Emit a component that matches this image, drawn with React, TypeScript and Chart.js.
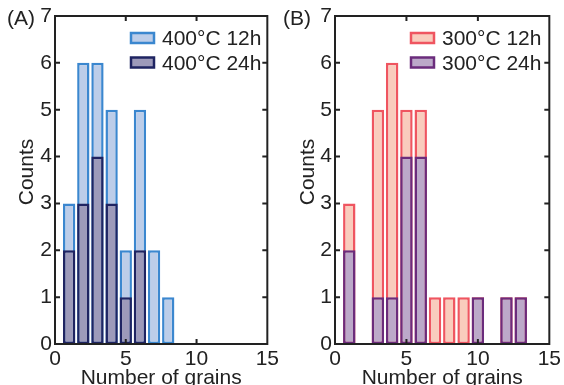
import React, { useEffect, useRef } from "react";
import { Chart, registerables } from "chart.js";

Chart.register(...registerables);

// Bin centres (number of grains)
const bins = [1, 2, 3, 4, 5, 6, 7, 8, 9, 10, 11, 12, 13, 14];

// Panel (A)
const a12h = [3, 6, 6, 5, 2, 5, 2, 1, 0, 0, 0, 0, 0, 0];
const a24h = [2, 3, 4, 3, 1, 2, 0, 0, 0, 0, 0, 0, 0, 0];
// Panel (B)
const b12h = [3, 0, 5, 6, 5, 5, 1, 1, 1, 1, 0, 1, 1, 0];
const b24h = [2, 0, 1, 1, 4, 4, 0, 0, 0, 1, 0, 1, 1, 0];

const xTicks = [0, 5, 10, 15];
const yTicks = [0, 1, 2, 3, 4, 5, 6, 7];

const FONT = "'Liberation Sans', Arial, Helvetica, sans-serif";
const TEXT = "#222222";
const FS = 21;

type Series = { label: string; values: number[]; fill: string; stroke: string };

type PanelProps = {
  panel: string;
  series: Series[];
  left: number;
  yAxisWidth: number;
  padRight: number;
  panelLabelX: number;
  yTitleX: number;
};

const boxPlugin = {
  id: "matlabBox",
  afterDatasetsDraw(chart: any) {
    const { ctx, chartArea } = chart;
    const { left, right, top, bottom } = chartArea;
    const xs = chart.scales.x;
    const ys = chart.scales.y;
    ctx.save();
    ctx.strokeStyle = "#222";
    ctx.lineWidth = 2;
    const tl = 5;
    ctx.beginPath();
    for (const v of xTicks.slice(1, -1)) {
      const px = xs.getPixelForValue(v);
      ctx.moveTo(px, bottom);
      ctx.lineTo(px, bottom - tl);
      ctx.moveTo(px, top);
      ctx.lineTo(px, top + tl);
    }
    for (const v of yTicks.slice(1, -1)) {
      const py = ys.getPixelForValue(v);
      ctx.moveTo(left, py);
      ctx.lineTo(left + tl, py);
      ctx.moveTo(right, py);
      ctx.lineTo(right - tl, py);
    }
    ctx.stroke();
    ctx.strokeRect(left, top, right - left, bottom - top);
    ctx.restore();
  },
  afterDraw(chart: any, _args: any, opts: any) {
    const { ctx, chartArea } = chart;
    ctx.save();
    ctx.font = `${FS}px ${FONT}`;
    ctx.fillStyle = TEXT;
    ctx.textBaseline = "alphabetic";
    ctx.textAlign = "left";
    ctx.fillText(opts.panel, opts.panelLabelX, 25);
    // y-axis title
    ctx.save();
    ctx.translate(opts.yTitleX, 172);
    ctx.rotate(-Math.PI / 2);
    ctx.textAlign = "center";
    ctx.textBaseline = "middle";
    ctx.fillText("Counts", 0, 0);
    ctx.restore();
    // legend
    const ds = chart.data.datasets;
    ds.forEach((d: any, i: number) => {
      const bx = chartArea.left + 76;
      const by = 33 + i * 24.5;
      ctx.fillStyle = d.backgroundColor;
      ctx.fillRect(bx, by, 23, 10);
      ctx.strokeStyle = d.borderColor;
      ctx.lineWidth = 2.5;
      ctx.strokeRect(bx, by, 23, 10);
      ctx.fillStyle = TEXT;
      ctx.textAlign = "left";
      ctx.textBaseline = "alphabetic";
      ctx.fillText(d.label, chartArea.left + 107, by + 12);
    });
    ctx.restore();
  },
};

function Panel(props: PanelProps) {
  const ref = useRef<HTMLCanvasElement | null>(null);
  useEffect(() => {
    if (!ref.current) return;
    const datasets = props.series.map((s, i) => ({
      label: s.label,
      data: bins.map((b, k) => ({ x: b, y: s.values[k] })),
      backgroundColor: s.fill,
      borderColor: s.stroke,
      borderWidth: 2.5,
      borderSkipped: false,
      grouped: false,
      order: props.series.length - i,
      categoryPercentage: 1,
      barPercentage: 0.87,
    }));
    const chart = new Chart(ref.current, {
      type: "bar",
      data: { datasets },
      plugins: [boxPlugin],
      options: {
        animation: false,
        responsive: false,
        layout: { padding: { left: 0, right: props.padRight, top: 16, bottom: 0 } },
        plugins: {
          legend: { display: false },
          tooltip: { enabled: false },
          matlabBox: { panel: props.panel, panelLabelX: props.panelLabelX, yTitleX: props.yTitleX },
        } as any,
        scales: {
          x: {
            type: "linear",
            min: 0,
            max: 15,
            offset: false,
            grid: { display: false, drawTicks: false },
            border: { display: false },
            afterBuildTicks: (s: any) => {
              s.ticks = xTicks.map((v) => ({ value: v }));
            },
            afterFit: (s: any) => {
              s.height = 56;
            },
            ticks: {
              font: { size: FS, family: FONT },
              color: TEXT,
              padding: 3,
              maxRotation: 0,
            },
            title: {
              display: true,
              text: "Number of grains",
              font: { size: FS, family: FONT },
              color: TEXT,
              padding: { top: 0, bottom: 9 },
            },
          },
          y: {
            type: "linear",
            min: 0,
            max: 7,
            grid: { display: false, drawTicks: false },
            border: { display: false },
            afterBuildTicks: (s: any) => {
              s.ticks = yTicks.map((v) => ({ value: v }));
            },
            afterFit: (s: any) => {
              s.width = props.yAxisWidth;
            },
            ticks: {
              font: { size: FS, family: FONT },
              color: TEXT,
              padding: 3,
            },
            title: { display: false },
          },
        },
      } as any,
    });
    return () => chart.destroy();
  }, []);
  return (
    <canvas
      ref={ref}
      width={282}
      height={400}
      style={{ position: "absolute", left: props.left, top: 0, width: 282, height: 400, display: "block" }}
    />
  );
}

export default function App() {
  return (
    <div
      style={{
        position: "absolute",
        left: 0,
        top: 0,
        width: 564,
        height: 385,
        overflow: "hidden",
        background: "#fff",
      }}
    >
      <Panel
        panel="(A)"
        left={0}
        yAxisWidth={55}
        padRight={8}
        panelLabelX={7}
        yTitleX={27}
        series={[
          { label: "400°C 12h", values: a12h, fill: "#bccde9", stroke: "#3b87cf" },
          { label: "400°C 24h", values: a24h, fill: "#9d9aba", stroke: "#1f2462" },
        ]}
      />
      <Panel
        panel="(B)"
        left={282}
        yAxisWidth={53}
        padRight={10}
        panelLabelX={1}
        yTitleX={26}
        series={[
          { label: "300°C 12h", values: b12h, fill: "#f9ccbd", stroke: "#ef5560" },
          { label: "300°C 24h", values: b24h, fill: "#bca9c9", stroke: "#6b2c7c" },
        ]}
      />
    </div>
  );
}
